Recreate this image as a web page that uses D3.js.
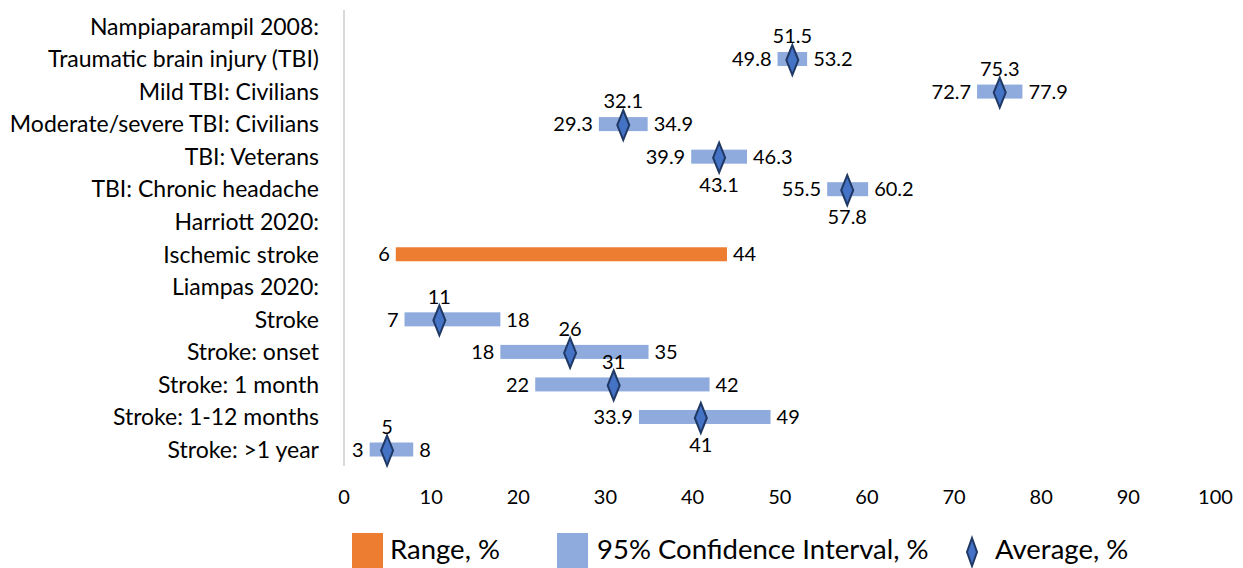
<!DOCTYPE html>
<html>
<head>
<meta charset="utf-8">
<script src="https://cdn.jsdelivr.net/npm/d3@7/dist/d3.min.js"></script>
<style>
  html, body { margin: 0; padding: 0; background: #ffffff; }
  svg { display: block; font-family: Lato, "Open Sans", sans-serif; }
</style>
</head>
<body>
<svg id="chart" width="1243" height="568"></svg>
<script>
// Row labels, top to bottom
const categories = [
  "Nampiaparampil 2008:",
  "Traumatic brain injury (TBI)",
  "Mild TBI: Civilians",
  "Moderate/severe TBI: Civilians",
  "TBI: Veterans",
  "TBI: Chronic headache",
  "Harriott 2020:",
  "Ischemic stroke",
  "Liampas 2020:",
  "Stroke",
  "Stroke: onset",
  "Stroke: 1 month",
  "Stroke: 1-12 months",
  "Stroke: >1 year"
];

// 95% confidence interval bounds and averages (%), null where a row has none
const ciLow  = [null, 49.8, 72.7, 29.3, 39.9, 55.5, null, null, null, 7, 18, 22, 33.9, 3];
const ciHigh = [null, 53.2, 77.9, 34.9, 46.3, 60.2, null, null, null, 18, 35, 42, 49, 8];
const avg    = [null, 51.5, 75.3, 32.1, 43.1, 57.8, null, null, null, 11, 26, 31, 41, 5];

// Reported range (%)
const rangeLow  = [null, null, null, null, null, null, null, 6, null, null, null, null, null, null];
const rangeHigh = [null, null, null, null, null, null, null, 44, null, null, null, null, null, null];

// Axis ticks
const xTicks = [0, 10, 20, 30, 40, 50, 60, 70, 80, 90, 100];

// Legend entries
const legendLabels = ["Range, %", "95% Confidence Interval, %", "Average, %"];

const COLOR_RANGE = "#ed7d31";
const COLOR_CI = "#8faadc";
const COLOR_AVG = "#4472c4";
const COLOR_AVG_STROKE = "#1f3864";

const svg = d3.select("#chart");

const x = d3.scaleLinear().domain([0, 100]).range([343.5, 1215]);
const y = d3.scalePoint().domain(categories).range([26.5, 449.5]);

const rows = categories.map((c, i) => ({
  cat: c,
  ciLow: ciLow[i], ciHigh: ciHigh[i], avg: avg[i],
  rLow: rangeLow[i], rHigh: rangeHigh[i]
}));

// Average labels that sit under the marker rather than above it
const avgLabelBelow = new Set(["TBI: Veterans", "TBI: Chronic headache", "Stroke: 1-12 months"]);

// vertical category axis line
svg.append("line")
  .attr("x1", 344).attr("x2", 344)
  .attr("y1", 10).attr("y2", 466)
  .attr("stroke", "#d9d9d9").attr("stroke-width", 2);

// category labels
svg.append("g").selectAll("text")
  .data(categories)
  .join("text")
  .attr("x", 319)
  .attr("y", d => y(d))
  .attr("dy", "0.36em")
  .attr("text-anchor", "end")
  .attr("font-size", 23)
  .attr("fill", "#000")
  .text(d => d);

const barH = 14;

// range bars
const rangeRows = rows.filter(r => r.rLow != null);
svg.append("g").selectAll("rect")
  .data(rangeRows)
  .join("rect")
  .attr("x", d => x(d.rLow))
  .attr("y", d => y(d.cat) - barH / 2)
  .attr("width", d => x(d.rHigh) - x(d.rLow))
  .attr("height", barH)
  .attr("fill", COLOR_RANGE);

// confidence-interval bars
const ciRows = rows.filter(r => r.ciLow != null);
svg.append("g").selectAll("rect")
  .data(ciRows)
  .join("rect")
  .attr("x", d => x(d.ciLow))
  .attr("y", d => y(d.cat) - barH / 2)
  .attr("width", d => x(d.ciHigh) - x(d.ciLow))
  .attr("height", barH)
  .attr("fill", COLOR_CI);

// average markers (diamonds)
const diamond = (hw, hh) => `M0,${-hh}L${hw},0L0,${hh}L${-hw},0Z`;
svg.append("g").selectAll("path")
  .data(rows.filter(r => r.avg != null))
  .join("path")
  .attr("transform", d => `translate(${x(d.avg)},${y(d.cat) + 1})`)
  .attr("d", diamond(6, 15))
  .attr("fill", COLOR_AVG)
  .attr("stroke", COLOR_AVG_STROKE)
  .attr("stroke-width", 2)
  .attr("stroke-linejoin", "miter");

const valueFont = 20;
const fmt = v => String(v);

// low / high value labels
const endLabels = [];
rows.forEach(r => {
  if (r.ciLow != null) {
    endLabels.push({ v: r.ciLow, cat: r.cat, side: "low" });
    endLabels.push({ v: r.ciHigh, cat: r.cat, side: "high" });
  }
  if (r.rLow != null) {
    endLabels.push({ v: r.rLow, cat: r.cat, side: "low" });
    endLabels.push({ v: r.rHigh, cat: r.cat, side: "high" });
  }
});
svg.append("g").selectAll("text")
  .data(endLabels)
  .join("text")
  .attr("x", d => d.side === "low" ? x(d.v) - 6 : x(d.v) + 6)
  .attr("y", d => y(d.cat))
  .attr("dy", "0.36em")
  .attr("text-anchor", d => d.side === "low" ? "end" : "start")
  .attr("font-size", valueFont)
  .attr("fill", "#000")
  .text(d => fmt(d.v));

// average value labels
svg.append("g").selectAll("text")
  .data(rows.filter(r => r.avg != null))
  .join("text")
  .attr("x", d => x(d.avg))
  .attr("y", d => avgLabelBelow.has(d.cat) ? y(d.cat) + 28 : y(d.cat) - 23)
  .attr("dy", "0.36em")
  .attr("text-anchor", "middle")
  .attr("font-size", valueFont)
  .attr("fill", "#000")
  .text(d => fmt(d.avg));

// value axis
const xAxis = svg.append("g")
  .attr("transform", "translate(0,497)")
  .call(d3.axisBottom(x).tickValues(xTicks).tickSize(0).tickPadding(0).tickFormat(d3.format("d")));
xAxis.select(".domain").remove();
xAxis.selectAll("text")
  .attr("y", 0)
  .attr("dy", "0.36em")
  .attr("font-family", "Lato, 'Open Sans', sans-serif")
  .attr("font-size", valueFont)
  .attr("fill", "#000");

// legend
const legend = svg.append("g");
const legendFont = 27.5;
legend.append("rect")
  .attr("x", 352).attr("y", 533).attr("width", 31).attr("height", 40)
  .attr("fill", COLOR_RANGE);
legend.append("text")
  .attr("x", 390).attr("y", 559)
  .attr("font-size", legendFont).attr("fill", "#000")
  .text(legendLabels[0]);
legend.append("rect")
  .attr("x", 557).attr("y", 533).attr("width", 31).attr("height", 40)
  .attr("fill", COLOR_CI);
legend.append("text")
  .attr("x", 597).attr("y", 559)
  .attr("font-size", legendFont).attr("fill", "#000")
  .text(legendLabels[1]);
legend.append("path")
  .attr("transform", "translate(972,552)")
  .attr("d", diamond(5, 14))
  .attr("fill", COLOR_AVG)
  .attr("stroke", COLOR_AVG_STROKE)
  .attr("stroke-width", 2);
legend.append("text")
  .attr("x", 995).attr("y", 559)
  .attr("font-size", legendFont).attr("fill", "#000")
  .text(legendLabels[2]);
</script>
</body>
</html>
